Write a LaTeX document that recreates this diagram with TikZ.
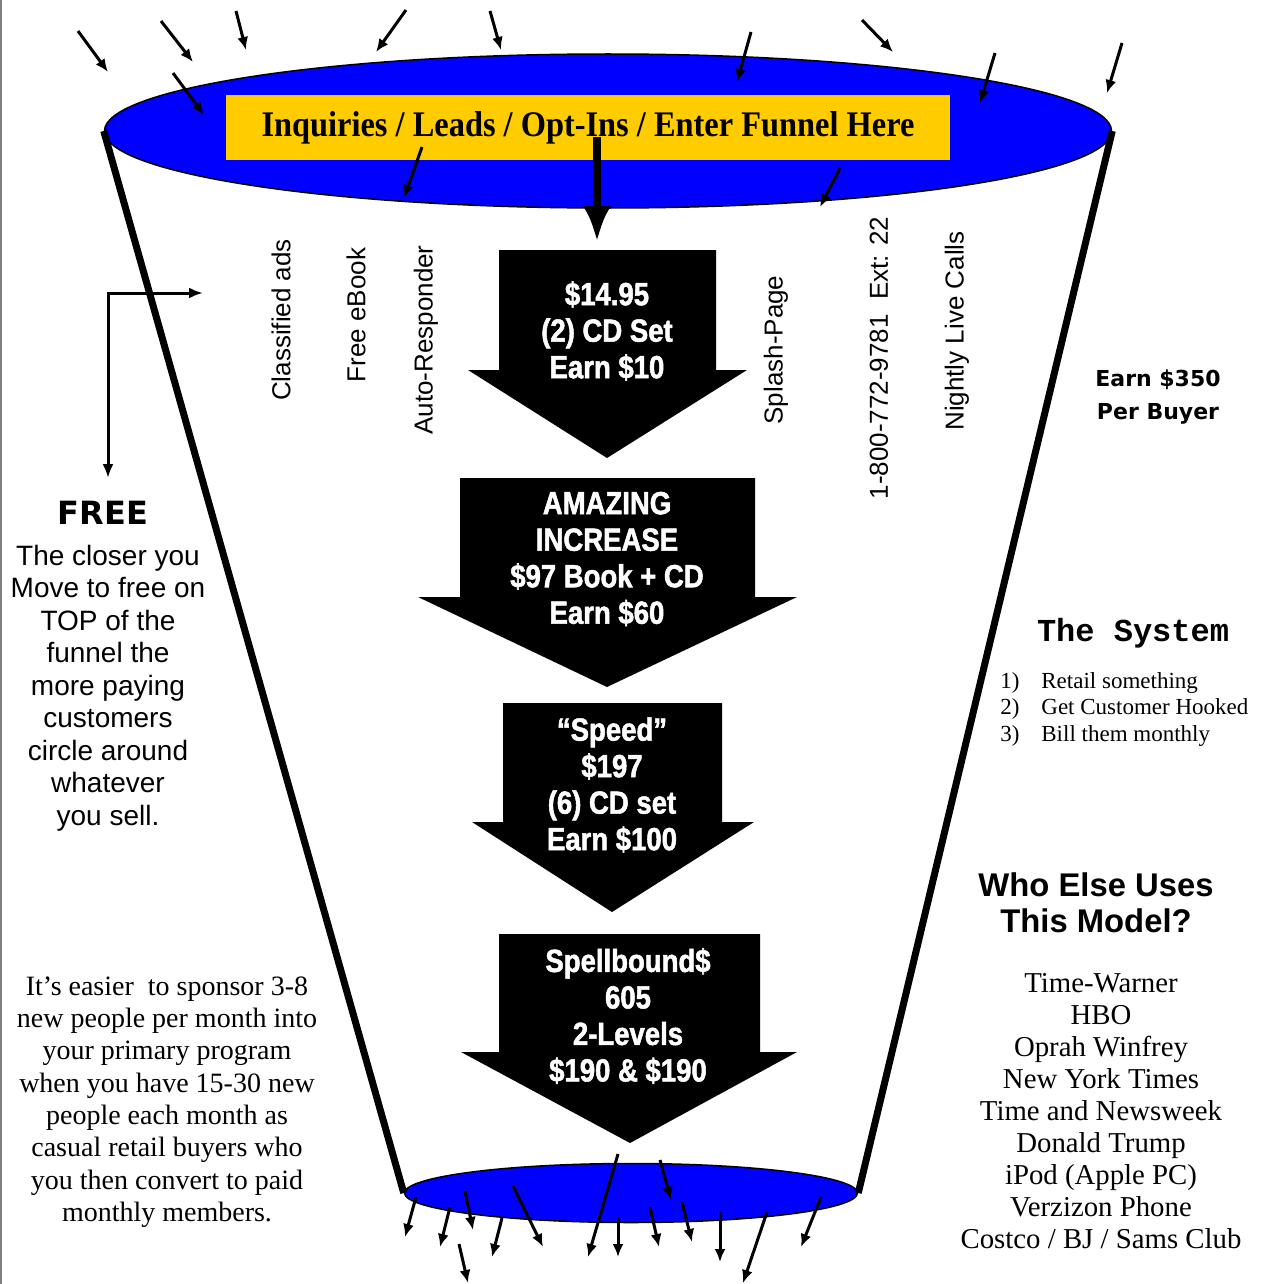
\documentclass[tikz,border=0pt]{standalone}
\usepackage{fontspec}
\setmainfont{Liberation Serif}
\newfontfamily\helvfont{Liberation Sans}
\newfontfamily\condfont[FakeStretch=0.86,FakeBold=1.6]{Liberation Sans}
\newfontfamily\headfont[FakeStretch=0.9]{Liberation Serif}
\newfontfamily\widefont{DejaVu Sans}
\newfontfamily\typefont{Liberation Mono}
\usepackage{tikz}
\usetikzlibrary{arrows.meta,shapes.geometric,positioning}

\definecolor{funnelblue}{RGB}{0,0,255}
\definecolor{leadgold}{RGB}{255,204,0}

\begin{document}
\begin{tikzpicture}[x=0.5pt,y=-0.5pt,
        dart/.style={line width=1.5pt,-{Latex[length=6.5pt,width=5.5pt]}},
        rim/.style={line width=3.5pt},
        bowl/.style={ellipse,draw=black,line width=0.75pt,fill=funnelblue,inner sep=0pt},
        steptext/.style={text=white,align=center,font=\condfont\bfseries\fontsize{16}{18.25}\selectfont},
        sidelabel/.style={rotate=90,font=\helvfont\fontsize{13}{15}\selectfont}]
        \useasboundingbox (0,0) rectangle (1262,1284);
        \draw[gray,line width=1pt] (1,0) -- (1,1284);
        % funnel
        \node[bowl,minimum width=503.5pt,minimum height=77pt] (mouth) at (608,131) {};
        \node[bowl,minimum width=226.5pt,minimum height=29.5pt] (spout) at (631,1193) {};
        \draw[rim] (mouth.west) -- (spout.west);
        \draw[rim] (mouth.east) -- (spout.east);
        \node[fill=leadgold,minimum width=362pt,minimum height=32.5pt,inner sep=0pt,font=\headfont\bfseries\fontsize{18}{20}\selectfont] (entry) at (588,127.5) {Inquiries / Leads / Opt-Ins / Enter Funnel Here};
        % block arrows
        \foreach \l/\r/\t/\s/\wl/\wr/\tx/\ty in {499/716/250/370/468/747/607/458, 460/755/478/597/418/797/607/687, 503/722/703/822/472/754/612/912, 499/760/934/1052/461/797/630/1143}
            \fill (\l,\t) -- (\r,\t) -- (\r,\s) -- (\wr,\s) -- (\tx,\ty) -- (\wl,\s) -- (\l,\s) -- cycle;
        \node[steptext] (stepA) at (607,331) {\$14.95\\(2) CD Set\\Earn \$10};
        \node[steptext] (stepB) at (607,559) {AMAZING\\INCREASE\\\$97 Book + CD\\Earn \$60};
        \node[steptext] (stepC) at (612,785) {“Speed”\\\$197\\(6) CD set\\Earn \$100};
        \node[steptext] (stepD) at (628,1016) {Spellbound\$\\605\\2-Levels\\\$190 \& \$190};
        \coordinate (drop) at (597,137);
        \coordinate (stepAtop) at (597,242);
        \draw[line width=4pt,-{Latex[length=18pt,width=14pt]}] (drop) -- (stepAtop);
        % lead sources
        \node[sidelabel] (ads) at (281,320) {Classified ads};
        \node[sidelabel] (ebook) at (356,315) {Free eBook};
        \node[sidelabel] (responder) at (426,340) {Auto-Responder};
        \node[sidelabel] (splash) at (776,350) {Splash-Page};
        \node[sidelabel] (phone) at (879,358) {1-800-772-9781 \ Ext: 22};
        \node[sidelabel] (calls) at (957,331) {Nightly Live Calls};
        % left side
        \node[font=\widefont\bfseries\fontsize{16}{18}\selectfont] (free) at (103,513) {FREE};
        \node[align=center,font=\helvfont\fontsize{14}{16.25}\selectfont] (closer) at (108,688) {The closer you\\Move to free on\\TOP of the\\funnel the\\more paying\\customers\\circle around\\whatever\\you sell.};
        \coordinate (loopfoot) at (108,478);
        \coordinate (loophead) at (203,293);
        \draw[line width=1.5pt,{Latex[length=7pt,width=5.5pt]}-{Latex[length=7pt,width=5.5pt]}] (loopfoot) |- (loophead);
        \node[align=center,font=\fontsize{14}{16.15}\selectfont] (sponsor) at (167,1102) {It’s easier\ \ to sponsor 3-8\\new people per month into\\your primary program\\when you have 15-30 new\\people each month as\\casual retail buyers who\\you then convert to paid\\monthly members.};
        % right side
        \node[align=center,font=\widefont\bfseries\fontsize{11}{16.5}\selectfont] (earn) at (1158,397) {Earn \$350\\Per Buyer};
        \node[font=\typefont\bfseries\fontsize{16}{18}\selectfont] (system) at (1133,633) {The System};
        \node[anchor=west,inner sep=0pt,align=left,font=\fontsize{11.5}{13.25}\selectfont] (steps) at (1000,709) {\makebox[20.5pt][l]{1)}Retail something\\\makebox[20.5pt][l]{2)}Get Customer Hooked\\\makebox[20.5pt][l]{3)}Bill them monthly};
        \node[align=center,font=\helvfont\bfseries\fontsize{16.4}{18}\selectfont] (who) at (1096,903) {Who Else Uses\\This Model?};
        \node[align=center,font=\fontsize{14.4}{16}\selectfont] (users) at (1101,1111) {Time-Warner\\HBO\\Oprah Winfrey\\New York Times\\Time and Newsweek\\Donald Trump\\iPod (Apple PC)\\Verzizon Phone\\Costco / BJ / Sams Club};
        % leads falling in
        \foreach \xa/\ya/\xb/\yb in {78/31/108/72, 161/21/193/62, 236/11/246/50, 406/10/376/52, 490/11/501/50, 751/32/737/82, 862/20/893/52, 995/53/980/103, 1122/43/1107/93, 173/73/204/115, 422/147/404/198, 840/168/820/207}
            \draw[dart] (\xa,\ya) -- (\xb,\yb);
        % buyers dropping out
        \foreach \xa/\ya/\xb/\yb in {416/1197/405/1237, 450/1207/440/1247, 465/1191/473/1230, 459/1244/468/1283, 502/1218/492/1257, 513/1186/543/1247, 618/1154/588/1257, 618/1217/618/1257, 660/1160/671/1200, 650/1207/659/1247, 682/1202/692/1242, 720/1212/720/1262, 767/1212/743/1283, 821/1197/801/1247}
            \draw[dart] (\xa,\ya) -- (\xb,\yb);
\end{tikzpicture}
\end{document}
